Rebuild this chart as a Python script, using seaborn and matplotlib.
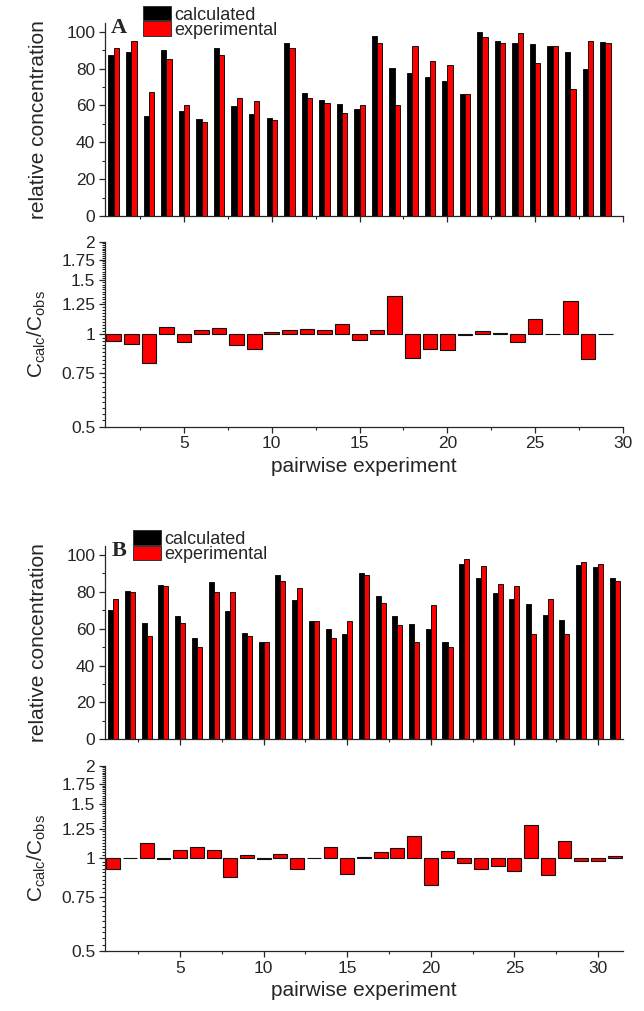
import numpy as np
import pandas as pd
import matplotlib
matplotlib.use("Agg")
import matplotlib.pyplot as plt
import seaborn as sns
from matplotlib.patches import Patch
from matplotlib.ticker import FixedLocator, MultipleLocator, NullFormatter

# ---- panel A data (29 pairwise experiments) ----
exp_a = list(range(1, 30))
calc_a = [87.2, 89.0, 54.2, 90.0, 56.8, 52.8, 91.3, 59.5, 55.5, 53.2,
          93.9, 66.9, 63.1, 60.6, 58.2, 97.6, 80.3, 77.6, 75.4, 73.2,
          66.0, 99.8, 95.1, 93.9, 93.3, 92.2, 89.2, 79.6, 94.2]
obs_a = [91.0, 95.0, 67.3, 85.2, 60.0, 51.0, 87.2, 64.0, 62.2, 52.1,
         91.0, 64.0, 61.1, 56.1, 60.0, 94.0, 60.0, 92.2, 83.9, 82.1,
         66.0, 97.1, 94.0, 99.1, 83.2, 92.2, 69.1, 95.1, 94.0]
ratio_a = [0.953, 0.932, 0.806, 1.059, 0.944, 1.033, 1.049, 0.925, 0.894, 1.018,
           1.030, 1.043, 1.036, 1.080, 0.961, 1.036, 1.336, 0.839, 0.894, 0.887,
           0.995, 1.028, 1.008, 0.946, 1.119, 1.002, 1.287, 0.833, 1.002]

# ---- panel B data (31 pairwise experiments) ----
exp_b = list(range(1, 32))
calc_b = [70.2, 80.7, 62.9, 83.5, 67.1, 54.8, 85.4, 69.6, 57.7, 52.8,
          89.0, 75.8, 64.2, 60.0, 57.1, 90.4, 77.8, 66.9, 62.7, 60.0,
          52.8, 95.1, 87.3, 79.2, 76.1, 73.6, 67.5, 64.7, 94.4, 93.5, 87.5]
obs_b = [76.1, 79.9, 56.1, 83.2, 63.1, 50.1, 79.9, 79.9, 56.1, 52.8,
         86.1, 81.9, 64.0, 55.0, 64.0, 89.0, 73.8, 61.8, 52.8, 72.9,
         49.9, 98.0, 93.9, 84.1, 83.0, 57.0, 75.9, 57.0, 96.0, 94.9, 86.1]
ratio_b = [0.923, 1.005, 1.119, 0.997, 1.064, 1.091, 1.064, 0.867, 1.023, 0.998,
           1.030, 0.921, 1.003, 1.089, 0.892, 1.010, 1.048, 1.078, 1.182, 0.819,
           1.056, 0.968, 0.926, 0.942, 0.912, 1.286, 0.885, 1.138, 0.980, 0.980, 1.015]

series_names = ["calculated", "experimental"]
palette = {"calculated": "black", "experimental": "red"}

sns.set_theme(style="ticks")
plt.rcParams["font.family"] = ["Liberation Sans", "DejaVu Sans"]
plt.rcParams["mathtext.fontset"] = "custom"
plt.rcParams["mathtext.rm"] = "Liberation Sans"
plt.rcParams["axes.linewidth"] = 0.9
plt.rcParams["xtick.major.width"] = 0.9
plt.rcParams["ytick.major.width"] = 0.9
plt.rcParams["xtick.minor.width"] = 0.8
plt.rcParams["ytick.minor.width"] = 0.8

fig = plt.figure(figsize=(6.44, 10.11), dpi=100)
left, width = 0.163, 0.8043
ax_a = fig.add_axes([left, 0.7864, width, 0.1913])
ax_ar = fig.add_axes([left, 0.5779, width, 0.1830])
ax_b = fig.add_axes([left, 0.2687, width, 0.1914])
ax_br = fig.add_axes([left, 0.0593, width, 0.1833])


def draw_panel(ax_top, ax_rat, exps, calc, obs, ratio, xmax, letter, letter_xy, leg_xy):
    n = len(exps)
    df = pd.DataFrame({
        "experiment": exps * 2,
        "value": calc + obs,
        "series": [series_names[0]] * n + [series_names[1]] * n,
    })
    sns.barplot(data=df, x="experiment", y="value", hue="series",
                hue_order=series_names, palette=palette, native_scale=True,
                width=0.6, errorbar=None, saturation=1, edgecolor="#111111",
                linewidth=0.7, legend=False, ax=ax_top)
    ax_top.set_xlim(0.5, xmax)
    ax_top.set_ylim(0, 105)
    ax_top.yaxis.set_major_locator(FixedLocator([0, 20, 40, 60, 80, 100]))
    ax_top.yaxis.set_minor_locator(FixedLocator([10, 30, 50, 70, 90]))
    ax_top.set_ylabel("relative concentration", fontsize=15)
    ax_top.set_xlabel("")

    # ratio bars grow up or down from 1
    rdf = pd.DataFrame({"experiment": exps, "ratio": ratio})
    rdf["offset"] = rdf["ratio"] - 1
    sns.barplot(data=rdf, x="experiment", y="offset", native_scale=True,
                width=0.83, errorbar=None, color="red", saturation=1,
                bottom=1, edgecolor="#111111", linewidth=0.8, ax=ax_rat)
    ax_rat.set_yscale("log")
    ax_rat.set_xlim(0.5, xmax)
    ax_rat.set_ylim(0.5, 2)
    majors = [0.5, 0.75, 1, 1.25, 1.5, 1.75, 2]
    ax_rat.yaxis.set_major_locator(FixedLocator(majors))
    ax_rat.set_yticklabels(["0.5", "0.75", "1", "1.25", "1.5", "1.75", "2"])
    minors = [v for v in np.arange(0.5, 2.0001, 0.025)
              if min(abs(v - m) for m in majors) > 1e-6]
    ax_rat.yaxis.set_minor_locator(FixedLocator(minors))
    ax_rat.yaxis.set_minor_formatter(NullFormatter())
    ax_rat.set_ylabel(r"$\mathregular{C_{calc}/C_{obs}}$", fontsize=15)
    ax_rat.set_xlabel("pairwise experiment", fontsize=15)

    for ax in (ax_top, ax_rat):
        ax.xaxis.set_major_locator(MultipleLocator(5))
        ax.xaxis.set_minor_locator(MultipleLocator(2.5))
        ax.tick_params(which="major", direction="out", length=4, labelsize=12.5, pad=3)
        ax.tick_params(which="minor", direction="out", length=2.5)
        sns.despine(ax=ax)
        ax.yaxis.set_label_coords(-0.11, 0.5)
    ax_rat.tick_params(axis="y", which="minor", length=2)
    ax_top.tick_params(axis="x", labelbottom=False)

    handles = [Patch(facecolor=palette[s], edgecolor="#333333", linewidth=0.7)
               for s in series_names]
    fig.legend(handles, series_names, loc="upper left", bbox_to_anchor=leg_xy,
               frameon=False, fontsize=13, handlelength=1.55, handleheight=0.85,
               handletextpad=0.2, labelspacing=-0.12, borderpad=0, borderaxespad=0)
    fig.text(letter_xy[0], letter_xy[1], letter, fontsize=16, fontweight="bold",
             family="Liberation Serif", ha="center", va="center")


draw_panel(ax_a, ax_ar, exp_a, calc_a, obs_a, ratio_a, 30, "A",
           (0.1848, 0.9725), (0.222, 0.994))
draw_panel(ax_b, ax_br, exp_b, calc_b, obs_b, ratio_b, 31.5, "B",
           (0.1848, 0.455), (0.2065, 0.4755))

fig.savefig("out.png", dpi=100)
